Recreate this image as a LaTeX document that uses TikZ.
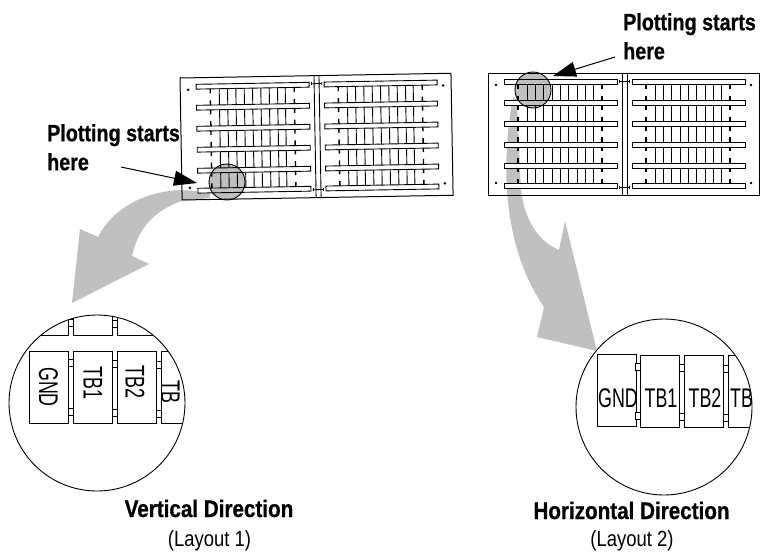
\documentclass[tikz,border=0pt]{standalone}
\usepackage{fontspec}
\setmainfont{Liberation Sans}
\newfontfamily\boldcond[FakeStretch=0.84,FakeBold=0.7]{Liberation Sans Bold}
\newfontfamily\headcond[FakeStretch=0.86,FakeBold=0.7]{Liberation Sans Bold}
\newfontfamily\regcond[FakeStretch=0.84]{Liberation Sans}
\newfontfamily\lightcond[FakeStretch=0.66]{Liberation Sans}
\usetikzlibrary{arrows.meta}
\definecolor{arrowgray}{RGB}{192,192,192}
\tikzset{
    startlabel/.style={anchor=north west, inner sep=0pt, align=left,
        font=\boldcond\fontsize{23.5}{29}\selectfont},
    headlabel/.style={anchor=base, inner sep=0pt, font=\headcond\fontsize{24}{29}\selectfont},
    sublabel/.style={anchor=base, inner sep=0pt, font=\regcond\fontsize{22}{26}\selectfont},
    termtext/.style={inner sep=0pt, font=\lightcond\fontsize{27}{30}\selectfont},
    termbox/.style={draw, line width=0.9pt, inner sep=0pt, minimum width=39pt, minimum height=72pt},
    tabbox/.style={draw, line width=1pt, inner sep=0pt, minimum width=5pt, minimum height=7pt},
    pointer/.style={line width=1pt, -{Triangle[length=23pt,width=15pt]}},
    bigarrow/.style={fill=arrowgray, draw=none},
    spot/.style={draw, line width=0.9pt, fill=black, fill opacity=0.25},
    plate/.pic={
        \draw[line width=1pt] (0,0) rectangle (271,122);
        \draw[line width=0.9pt] (134,0) -- (134,122) (139,0) -- (139,122);
        \foreach \dotx in {8,263} \foreach \doty in {12,110}
            \fill (\dotx,\doty) circle[radius=1.4];
        \foreach \ticky in {8,114}
            \draw[line width=0.8pt, {Bar[width=3pt]}-{Bar[width=3pt]}] (131,\ticky) -- (142,\ticky);
        \foreach \off in {0,128} {
            \foreach \vx in {39,47.3,55.6,64,72.3,80.6,89,97.3,105}
                \draw[line width=0.9pt] (\off+\vx,9) -- (\off+\vx,113);
            \foreach \sidex in {30,114}
                \draw[line width=1.4pt, dash pattern=on 14pt off 6.8pt, dash phase=7pt] (\off+\sidex,9) -- (\off+\sidex,113);
            \foreach \by in {9,30,51,72,93,113}
                \draw[line width=0.9pt, fill=white] (\off+16,\by-2.4) rectangle (\off+129,\by+2.4);
        }
    }
}

\begin{document}
\begin{tikzpicture}[x=1pt,y=-1pt]
    \useasboundingbox (0,0) rectangle (760,552);

    % grey arrows go under the plates
    \path[bigarrow] (210,192) -- (182,190) .. controls (145,191) and (113,208) .. (98,237)
        -- (80,229) -- (72,303) -- (149,264) -- (132,256)
        .. controls (138,228) and (155,210) .. (182,201) -- (210,198) -- cycle;
    \path[bigarrow] (513,97) .. controls (503,150) and (498,240) .. (544,307)
        -- (537,337) -- (597,351) -- (565,221) -- (559,250)
        .. controls (535,240) and (524,215) .. (521,190) -- (517,100) -- cycle;

    \pic[rotate=1] at (180,78) {plate};
    \pic at (488,73) {plate};

    \draw[spot] (227,182) circle[radius=18];
    \draw[spot] (533,90) circle[radius=18];

    % pointers
    \coordinate (startv) at (121,167);
    \coordinate (tipv) at (197,183);
    \coordinate (starth) at (615,57);
    \coordinate (tiph) at (553,76);
    \draw[pointer] (startv) -- (tipv);
    \draw[pointer] (starth) -- (tiph);

    \node[startlabel] (plotv) at (47,124) {Plotting starts\\here};
    \node[startlabel] (ploth) at (623,13) {Plotting starts\\here};

    % vertical direction
    \begin{scope}
        \clip (97,403) circle[radius=88];
        \foreach \i/\bx in {1/48.5,2/92.5,3/136.5} {
            \node[termbox] (topv\i) at (\bx,299) {};
        }
        \node[termbox] (gndv) at (48.5,387) {};
        \node[termbox] (tbonev) at (92.5,387) {};
        \node[termbox] (tbtwov) at (136.5,387) {};
        \node[termbox] (tbv) at (180.5,387) {};
        \foreach \tx/\ty [count=\i] in {70.5/323,115/323.5,70.5/362.5,70.5/412,115/364,115/413,158.5/364.5,158.5/413.5} {
            \node[tabbox, fill=white] (tabv\i) at (\tx,\ty) {};
        }
        \node[termtext, rotate=-90] (gndvtext) at (48.5,387) {GND};
        \node[termtext, rotate=-90] (tbonevtext) at (93,383) {TB1};
        \node[termtext, rotate=-90] (tbtwovtext) at (135,382) {TB2};
        \node[termtext, rotate=-90] (tbvtext) at (170.5,392) {TB};
    \end{scope}
    \draw[line width=0.9pt] (97,403) circle[radius=88];

    % horizontal direction
    \begin{scope}
        \clip (664,407) circle[radius=88];
        \node[termbox] (gndh) at (616.5,390.5) {};
        \node[termbox] (tboneh) at (659.5,391.5) {};
        \node[termbox] (tbtwoh) at (703.5,391.5) {};
        \node[termbox] (tbh) at (747.5,391.5) {};
        \foreach \tx/\ty [count=\i] in {638/367,638/415.5,681.5/367.5,681.5/416.5,725.5/369,725.5/417.5} {
            \node[tabbox, fill=white] (tabh\i) at (\tx,\ty) {};
        }
    \end{scope}
    \draw[line width=0.9pt] (664,407) circle[radius=88];
    \node[termtext, anchor=base] (gndhtext) at (618,407) {GND};
    \node[termtext, anchor=base] (tbonehtext) at (661,407) {TB1};
    \node[termtext, anchor=base] (tbtwohtext) at (705,407) {TB2};
    \node[termtext, anchor=base] (tbhtext) at (741.5,407) {TB};

    % captions
    \node[headlabel] (headv) at (209,517) {Vertical Direction};
    \node[sublabel] (subv) at (209.5,546) {(Layout 1)};
    \node[headlabel] (headh) at (631.5,519) {Horizontal Direction};
    \node[sublabel] (subh) at (632,546.5) {(Layout 2)};
\end{tikzpicture}
\end{document}
